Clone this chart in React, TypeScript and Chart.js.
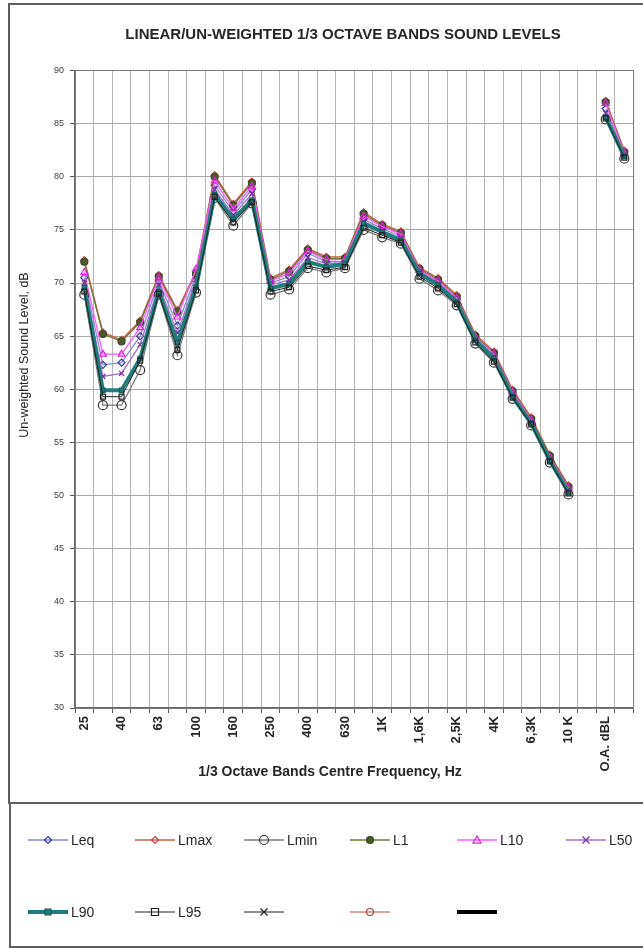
import { useEffect, useRef } from 'react';
import { Chart, registerables } from 'chart.js';

Chart.register(...registerables);

const FONT = '"Liberation Sans", Arial, sans-serif';

const titleText = 'LINEAR/UN-WEIGHTED 1/3 OCTAVE BANDS SOUND LEVELS';
const xTitle = '1/3 Octave Bands Centre Frequency, Hz';
const yTitle = 'Un-weighted Sound Level, dB';

const categories = ['25', '31.5', '40', '50', '63', '80', '100', '125', '160', '200', '250', '315', '400', '500', '630', '800', '1K', '1.25K', '1,6K', '2K', '2,5K', '3.15K', '4K', '5K', '6,3K', '8K', '10 K', '', 'O.A. dBL', 'O.A. dBA'];
const tickLabels = ['25', '', '40', '', '63', '', '100', '', '160', '', '250', '', '400', '', '630', '', '1K', '', '1,6K', '', '2,5K', '', '4K', '', '6,3K', '', '10 K', '', 'O.A. dBL', ''];

const leq = [70.5, 62.3, 62.5, 65.0, 70.2, 66.0, 70.7, 79.2, 76.7, 78.8, 70.0, 70.6, 72.8, 72.0, 72.0, 76.0, 75.1, 74.4, 71.1, 70.1, 68.5, 64.8, 63.2, 59.6, 57.0, 53.5, 50.6, null, 86.4, 82.1];
const lmax = [72.15, 65.35, 64.65, 66.45, 70.75, 67.45, 71.05, 80.15, 77.45, 79.55, 70.45, 71.25, 73.25, 72.45, 72.45, 76.65, 75.55, 74.85, 71.45, 70.45, 68.85, 65.15, 63.55, 59.95, 57.35, 53.85, 50.95, null, 87.15, 82.45];
const lmin = [68.9, 58.5, 58.5, 61.8, 68.9, 63.2, 69.1, 78.0, 75.4, 77.5, 68.9, 69.4, 71.4, 71.0, 71.4, 75.0, 74.3, 73.7, 70.4, 69.3, 67.9, 64.3, 62.5, 59.1, 56.6, 53.1, 50.1, null, 85.4, 81.7];
const l1 = [72.0, 65.2, 64.5, 66.3, 70.6, 67.3, 70.9, 80.0, 77.3, 79.4, 70.3, 71.1, 73.1, 72.3, 72.3, 76.5, 75.4, 74.7, 71.3, 70.3, 68.7, 65.0, 63.4, 59.8, 57.2, 53.7, 50.8, null, 87.0, 82.3];
const l10 = [71.0, 63.3, 63.3, 65.8, 70.5, 66.8, 71.3, 79.6, 77.0, 79.1, 70.2, 70.9, 73.0, 72.2, 72.2, 76.3, 75.3, 74.6, 71.2, 70.2, 68.6, 64.9, 63.3, 59.7, 57.1, 53.6, 50.7, null, 86.9, 82.2];
const l50 = [70.0, 61.2, 61.5, 64.2, 69.8, 65.3, 70.3, 78.8, 76.4, 78.4, 69.8, 70.3, 72.4, 71.8, 71.9, 75.8, 74.9, 74.2, 71.0, 69.9, 68.3, 64.7, 63.1, 59.5, 56.9, 53.4, 50.5, null, 86.0, 82.0];
const l90 = [69.6, 59.9, 59.9, 62.9, 69.2, 64.4, 69.6, 78.3, 76.0, 77.8, 69.5, 69.9, 72.0, 71.5, 71.8, 75.6, 74.8, 74.0, 70.9, 69.8, 68.2, 64.6, 62.9, 59.3, 56.8, 53.3, 50.3, null, 85.6, 81.9];
const l95 = [69.2, 59.3, 59.3, 62.7, 69.0, 63.7, 69.3, 78.1, 75.7, 77.6, 69.2, 69.6, 71.6, 71.2, 71.5, 75.2, 74.5, 73.8, 70.6, 69.5, 68.0, 64.4, 62.6, 59.2, 56.7, 53.2, 50.2, null, 85.5, 81.8];
const blankA: (number | null)[] = [];
const blankB: (number | null)[] = [];
const blankC: (number | null)[] = [];

type S = {
  label: string; data: (number | null)[]; color: string; marker: string | false;
  mStroke: string; mFill: string; r: number; width: number;
};

const series: S[] = [
  { label: 'Leq', data: leq, color: '#8a8ad0', marker: 'rectRot', mStroke: '#3535a0', mFill: 'rgba(0,0,0,0)', r: 3.5, width: 1.3 },
  { label: 'Lmax', data: lmax, color: '#c8604a', marker: 'rectRot', mStroke: '#d04040', mFill: 'rgba(0,0,0,0)', r: 3.5, width: 1.5 },
  { label: 'Lmin', data: lmin, color: '#7a7a7a', marker: 'circle', mStroke: '#333333', mFill: 'rgba(0,0,0,0)', r: 4.5, width: 1.3 },
  { label: 'L1', data: l1, color: '#6f7a3a', marker: 'circle', mStroke: '#3a4a20', mFill: '#4a5a28', r: 3.5, width: 1.3 },
  { label: 'L10', data: l10, color: '#ff55ff', marker: 'triangle', mStroke: '#e020e0', mFill: 'rgba(0,0,0,0)', r: 4, width: 1.3 },
  { label: 'L50', data: l50, color: '#a070d0', marker: 'crossRot', mStroke: '#7a2aa0', mFill: 'rgba(0,0,0,0)', r: 3.5, width: 1.3 },
  { label: 'L90', data: l90, color: '#1f7d7a', marker: 'rect', mStroke: '#1a5a5a', mFill: '#1f7d7a', r: 3, width: 4 },
  { label: 'L95', data: l95, color: '#202020', marker: 'rect', mStroke: '#202020', mFill: 'rgba(0,0,0,0)', r: 3.5, width: 1 },
  { label: '', data: blankA, color: '#202020', marker: 'crossRot', mStroke: '#202020', mFill: 'rgba(0,0,0,0)', r: 3.5, width: 1 },
  { label: '', data: blankB, color: '#b05040', marker: 'circle', mStroke: '#b04030', mFill: 'rgba(0,0,0,0)', r: 3.5, width: 1 },
  { label: '', data: blankC, color: '#000000', marker: false, mStroke: '#000', mFill: '#000', r: 0, width: 4 },
];

const legendCols = [28, 135, 244, 350, 457, 566];
const legendRows = [840, 912];

function drawMarker(ctx: CanvasRenderingContext2D, s: S, x: number, y: number) {
  if (!s.marker) return;
  const r = s.r;
  ctx.save();
  ctx.lineWidth = 1.2;
  ctx.strokeStyle = s.mStroke;
  ctx.fillStyle = s.mFill;
  ctx.beginPath();
  if (s.marker === 'circle') {
    ctx.arc(x, y, r, 0, Math.PI * 2);
  } else if (s.marker === 'rect') {
    ctx.rect(x - r, y - r, 2 * r, 2 * r);
  } else if (s.marker === 'rectRot') {
    ctx.moveTo(x, y - r); ctx.lineTo(x + r, y); ctx.lineTo(x, y + r); ctx.lineTo(x - r, y); ctx.closePath();
  } else if (s.marker === 'triangle') {
    ctx.moveTo(x, y - r); ctx.lineTo(x + r, y + r * 0.8); ctx.lineTo(x - r, y + r * 0.8); ctx.closePath();
  } else if (s.marker === 'crossRot') {
    ctx.moveTo(x - r, y - r); ctx.lineTo(x + r, y + r); ctx.moveTo(x + r, y - r); ctx.lineTo(x - r, y + r);
  }
  if (s.marker !== 'crossRot') ctx.fill();
  ctx.stroke();
  ctx.restore();
}

const decor = {
  id: 'decor',
  afterDraw(chart: any) {
    const ctx: CanvasRenderingContext2D = chart.ctx;
    const { left, top, right, bottom } = chart.chartArea;
    ctx.save();
    ctx.strokeStyle = '#7a7a7a';
    ctx.lineWidth = 1;
    ctx.strokeRect(left, top, right - left, bottom - top);

    ctx.strokeStyle = '#5e5e5e';
    ctx.lineWidth = 2;
    ctx.strokeRect(9, 4, 700, 799);
    ctx.strokeRect(10, 803, 700, 144);

    ctx.fillStyle = '#262626';
    ctx.textAlign = 'center';
    ctx.textBaseline = 'middle';
    ctx.font = `bold 15px ${FONT}`;
    ctx.fillText(titleText, 343, 35);
    ctx.font = `bold 14px ${FONT}`;
    ctx.fillText(xTitle, 330, 772);
    ctx.save();
    ctx.translate(25, 355);
    ctx.rotate(-Math.PI / 2);
    ctx.font = `12.5px ${FONT}`;
    ctx.fillText(yTitle, 0, 0);
    ctx.restore();

    ctx.textAlign = 'left';
    ctx.font = `14px ${FONT}`;
    series.forEach((s, i) => {
      const row = i < 6 ? 0 : 1;
      const col = i < 6 ? i : i - 6;
      const x0 = legendCols[col];
      const y = legendRows[row];
      ctx.save();
      ctx.strokeStyle = s.color;
      ctx.lineWidth = s.width;
      ctx.beginPath();
      ctx.moveTo(x0, y);
      ctx.lineTo(x0 + 40, y);
      ctx.stroke();
      ctx.restore();
      drawMarker(ctx, s, x0 + 20, y);
      if (s.label) {
        ctx.fillStyle = '#262626';
        ctx.fillText(s.label, x0 + 43, y + 1);
      }
    });
    ctx.restore();
  },
};

export default function App() {
  const ref = useRef<HTMLCanvasElement | null>(null);
  useEffect(() => {
    document.body.style.margin = '0';
    const canvas = ref.current;
    if (!canvas) return;
    const n = series.length;
    const chart = new Chart(canvas, {
      type: 'line',
      data: {
        labels: categories,
        datasets: series.map((s, i) => ({
          label: s.label,
          data: s.data,
          borderColor: s.color,
          backgroundColor: s.color,
          borderWidth: s.width,
          pointStyle: s.marker as any,
          pointRadius: s.marker ? s.r : 0,
          pointBorderColor: s.mStroke,
          pointBackgroundColor: s.mFill,
          pointBorderWidth: 1.2,
          spanGaps: false,
          tension: 0,
          order: n - i,
        })),
      },
      options: {
        responsive: false,
        animation: false,
        devicePixelRatio: 1,
        layout: { padding: { left: 0, right: 3, top: 70.5, bottom: 140 } },
        plugins: {
          legend: { display: false },
          title: { display: false },
          tooltip: { enabled: false },
        },
        scales: {
          x: {
            type: 'category',
            offset: true,
            grid: { offset: true, color: '#b5b5b5', lineWidth: 1, tickLength: 5, tickColor: '#555', drawTicks: true },
            border: { color: '#555', width: 1.5 },
            afterFit: (scale: any) => { scale.height = 100; },
            ticks: {
              autoSkip: false,
              maxRotation: 90,
              minRotation: 90,
              padding: 3,
              color: '#262626',
              font: { family: FONT, size: 13, weight: 'bold' },
              callback: (_v: any, i: number) => tickLabels[i],
            },
          },
          y: {
            min: 30,
            max: 90,
            grid: { color: '#a8a8a8', lineWidth: 1, tickLength: 5, tickColor: '#555', drawTicks: true },
            border: { color: '#555', width: 1.5 },
            afterFit: (scale: any) => { scale.width = 75; },
            ticks: {
              stepSize: 5,
              padding: 6,
              color: '#404040',
              font: { family: FONT, size: 9 },
            },
          },
        },
      },
      plugins: [decor],
    });
    return () => chart.destroy();
  }, []);
  return <canvas ref={ref} width={643} height={948} style={{ display: 'block' }} />;
}
